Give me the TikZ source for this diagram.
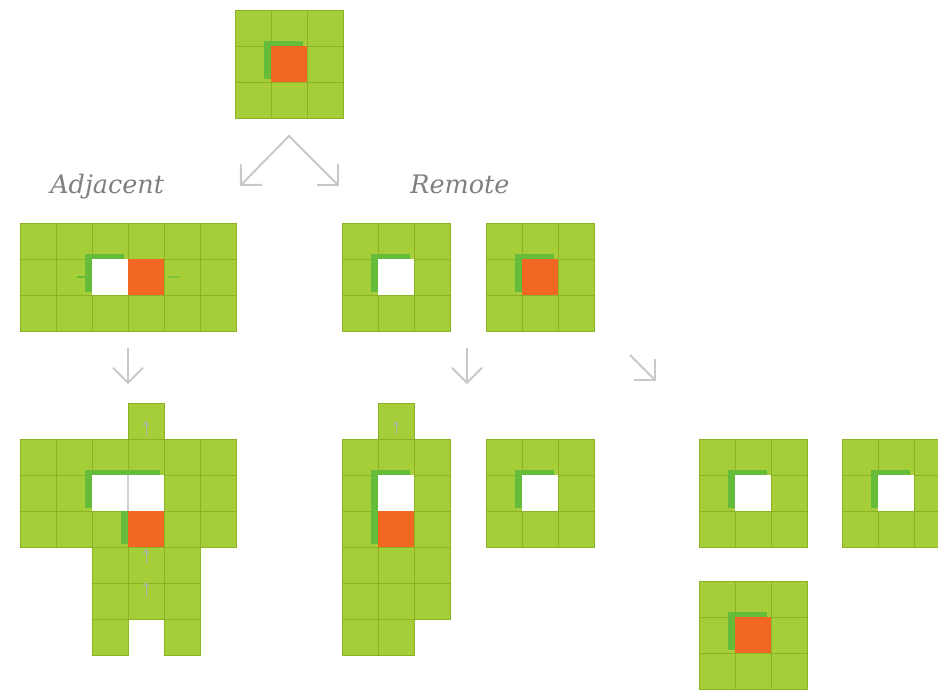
\documentclass[tikz,border=0pt]{standalone}
\usepackage{fontspec}
\newfontfamily\slabfont{DejaVu Serif}
\definecolor{leaf}{RGB}{166, 206, 57}
\definecolor{leafline}{RGB}{138, 178, 38}
\definecolor{leafshade}{RGB}{100, 188, 58}
\definecolor{ember}{RGB}{242, 104, 34}
\definecolor{arrowgray}{RGB}{200, 200, 200}
\definecolor{labelgray}{RGB}{128, 128, 128}
\usetikzlibrary{arrows.meta}

% one square of the grid, in cell units
\newcommand{\tile}[2]{\draw[tile] ({#1*36},{#2*36}) rectangle ++(36,36);}
\newcommand{\board}{\foreach \i in {0,1,2} \foreach \j in {0,1,2} {\tile{\i}{\j}}}
% green cast at the top left of a hole, #3 cells wide
\newcommand{\cast}[3]{\fill[cast] ({#1*36-7},{#2*36-5}) rectangle ({(#1+#3)*36-4},{(#2+1)*36-3});}
\newcommand{\emptycell}[2]{\fill[emptycell] ({#1*36},{#2*36}) rectangle ++(36,36);}
\newcommand{\activecell}[2]{\fill[activecell] ({#1*36},{#2*36}) rectangle ++(36,36);}

\begin{document}
\begin{tikzpicture}[
    x=0.02cm, y=-0.02cm,
    tile/.style={fill=leaf, draw=leafline, line width=0.5pt},
    cast/.style={fill=leafshade},
    emptycell/.style={fill=white},
    activecell/.style={fill=ember},
    flow/.style={-{Straight Barb[angle=90:12pt]}, line width=1.1pt, arrowgray, line join=miter},
    nudge/.style={-{Straight Barb[angle=70:2.5pt]}, line width=0.5pt, gray!60},
    tag/.style={font=\slabfont\itshape\fontsize{14.5}{16}\selectfont, text=labelgray, inner sep=0pt},
  ]
  \useasboundingbox (0,0) rectangle (938,690);
  \clip (0,0) rectangle (938,690);

  % Start
  \begin{scope}[shift={(235,10)}]
    \board
    \cast{1}{1}{1}
    \activecell{1}{1}
  \end{scope}

  % Split
  \coordinate (fork) at (289,136);
  \coordinate (adjtip) at (240,186);
  \coordinate (remtip) at (339,186);
  \draw[flow, {Straight Barb[angle=90:12pt]}-{Straight Barb[angle=90:12pt]}] (adjtip) -- (fork) -- (remtip);

  \node[tag, anchor=base west] (adjacent) at (50,193) {Adjacent};
  \node[tag, anchor=base west] (remote) at (410,193) {Remote};

  % Adjacent
  \begin{scope}[shift={(20,223)}]
    \foreach \i in {0,...,5} \foreach \j in {0,1,2} {\tile{\i}{\j}}
    \cast{2}{1}{1}
    \emptycell{2}{1}
    \activecell{3}{1}
    \draw[leafshade, line width=1pt] (57,54) -- (69,54);
    \draw[leafshade!60!leaf, line width=1pt] (147,54) -- (160,54);
  \end{scope}

  % Remote
  \begin{scope}[shift={(342,223)}]
    \board
    \cast{1}{1}{1}
    \emptycell{1}{1}
  \end{scope}
  \begin{scope}[shift={(486,223)}]
    \board
    \cast{1}{1}{1}
    \activecell{1}{1}
  \end{scope}

  % Steps down
  \coordinate (adjtop) at (128,348);
  \coordinate (adjend) at (128,384);
  \coordinate (remtop) at (467,348);
  \coordinate (remend) at (467,384);
  \coordinate (fartop) at (630,355);
  \coordinate (farend) at (656,381);
  \draw[flow] (adjtop) -- (adjend);
  \draw[flow] (remtop) -- (remend);
  \draw[flow] (fartop) -- (farend);

  % Adjacent, grown
  \begin{scope}[shift={(20,439)}]
    \tile{3}{-1}
    \foreach \i in {0,...,5} \foreach \j in {0,1,2} {\tile{\i}{\j}}
    \foreach \i in {2,3,4} \foreach \j in {3,4} {\tile{\i}{\j}}
    \tile{2}{5}
    \tile{4}{5}
    \cast{2}{1}{2}
    \cast{3}{2}{1}
    \emptycell{2}{1}
    \emptycell{3}{1}
    \activecell{3}{2}
    \draw[gray!35, line width=1.2pt] (108,36) -- (108,72);
    \draw[nudge] (126,-3) -- (126,-18);
    \draw[nudge] (126,124) -- (126,110);
    \draw[nudge] (126,158) -- (126,143);
  \end{scope}

  % Remote, grown
  \begin{scope}[shift={(342,439)}]
    \tile{1}{-1}
    \foreach \i in {0,1,2} \foreach \j in {0,...,4} {\tile{\i}{\j}}
    \tile{0}{5}
    \tile{1}{5}
    \cast{1}{1}{1}
    \cast{1}{2}{1}
    \emptycell{1}{1}
    \activecell{1}{2}
    \draw[nudge] (54,-4) -- (54,-18);
  \end{scope}
  \begin{scope}[shift={(486,439)}]
    \board
    \cast{1}{1}{1}
    \emptycell{1}{1}
  \end{scope}

  % Remote, split apart
  \begin{scope}[shift={(699,439)}]
    \board
    \cast{1}{1}{1}
    \emptycell{1}{1}
  \end{scope}
  \begin{scope}[shift={(842,439)}]
    \board
    \cast{1}{1}{1}
    \emptycell{1}{1}
  \end{scope}
  \begin{scope}[shift={(699,581)}]
    \board
    \cast{1}{1}{1}
    \activecell{1}{1}
  \end{scope}

\end{tikzpicture}
\end{document}
